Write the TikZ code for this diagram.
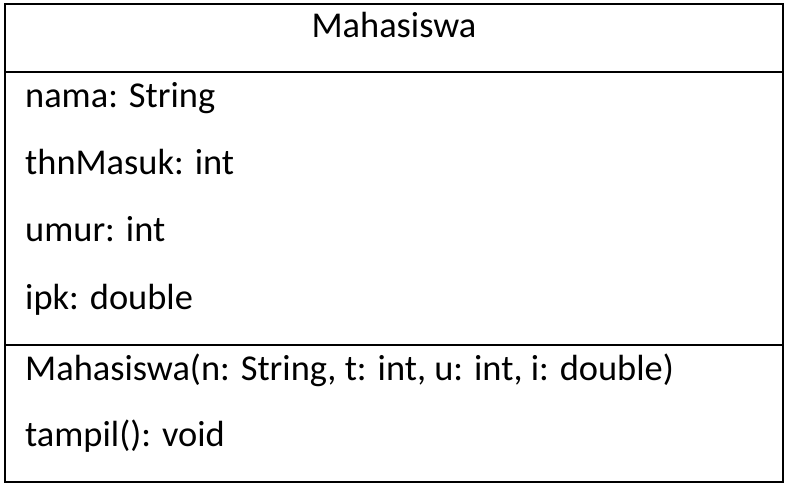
\documentclass[tikz,border=0pt]{standalone}
\usepackage{fontspec}
\setmainfont{Carlito}
\begin{document}
\begin{tikzpicture}[x=1pt,y=-1pt,
  line/.style={line width=2.2pt, draw=black},
  lbl/.style={anchor=base west, inner sep=0pt, font=\fontsize{36.4}{43}\selectfont},
  ttl/.style={anchor=base, inner sep=0pt, font=\fontsize{36.4}{43}\selectfont}]
\useasboundingbox (0,0) rectangle (790,489);
\coordinate (tl) at (5,4);
\coordinate (br) at (783,482);
\draw[line] (tl) rectangle (br);
\coordinate (d1l) at (5,72); \coordinate (d1r) at (783,72);
\coordinate (d2l) at (5,345); \coordinate (d2r) at (783,345);
\draw[line] (d1l) -- (d1r);
\draw[line] (d2l) -- (d2r);
\node[ttl] (title) at (394,38) {Mahasiswa};
\node[lbl] (a1) at (25,108) {nama: String};
\node[lbl] (a2) at (25,175) {thnMasuk: int};
\node[lbl] (a3) at (25,242) {umur: int};
\node[lbl] (a4) at (25,309) {ipk: double};
\node[lbl] (m1) at (25,380) {Mahasiswa(n: String, t: int, u: int, i: double)};
\node[lbl] (m2) at (25,446) {tampil(): void};
\end{tikzpicture}
\end{document}
